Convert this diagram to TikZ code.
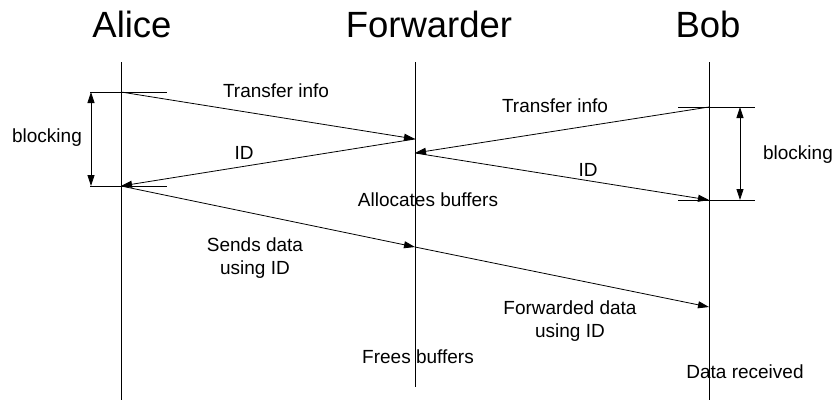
\documentclass[tikz,border=0pt]{standalone}
\usepackage{fontspec}
\setmainfont{Liberation Sans}
\usetikzlibrary{arrows.meta}
\begin{document}
\begin{tikzpicture}[x=1pt,y=-1pt,
  lifeline/.style={draw, line width=0.8pt},
  tick/.style={draw, line width=0.8pt},
  msg/.style={draw, line width=0.8pt, -{Triangle[length=11pt,width=7pt]}},
  span/.style={draw, line width=0.8pt, {Triangle[length=11pt,width=7pt]}-{Triangle[length=11pt,width=7pt]}},
  title/.style={font=\fontsize{36.5}{40}\selectfont, anchor=base},
  lbl/.style={font=\fontsize{19}{23}\selectfont, align=center, inner sep=0pt}]
\useasboundingbox (0,0) rectangle (833,400);

% participants
\node[title] (alice) at (132,37) {Alice};
\node[title] (fwd) at (429,37) {Forwarder};
\node[title] (bob) at (708,37) {Bob};

% lifelines
\coordinate (aT) at (121,62); \coordinate (aB) at (121,400);
\coordinate (fT) at (415,62); \coordinate (fB) at (415,387);
\coordinate (bT) at (709,62); \coordinate (bB) at (709,400);
\draw[lifeline] (aT) -- (aB);
\draw[lifeline] (fT) -- (fB);
\draw[lifeline] (bT) -- (bB);

% message points
\coordinate (a1) at (121,92);
\coordinate (a2) at (121,186);
\coordinate (f1) at (415,139);
\coordinate (f2) at (415,153);
\coordinate (f3) at (415,247);
\coordinate (b1) at (709,107);
\coordinate (b2) at (709,200);
\coordinate (b3) at (709,307);

% blocking ticks and spans
\coordinate (aL1) at (90,92);  \coordinate (aR1) at (167,92);
\coordinate (aL2) at (90,186); \coordinate (aR2) at (167,186);
\coordinate (bL1) at (678,107); \coordinate (bR1) at (755,107);
\coordinate (bL2) at (678,200); \coordinate (bR2) at (755,200);
\draw[tick] (aL1) -- (aR1);
\draw[tick] (aL2) -- (aR2);
\draw[tick] (bL1) -- (bR1);
\draw[tick] (bL2) -- (bR2);
\coordinate (sa1) at (91,92);  \coordinate (sa2) at (91,186);
\coordinate (sb1) at (740,107); \coordinate (sb2) at (740,200);
\draw[span] (sa1) -- (sa2);
\draw[span] (sb1) -- (sb2);

% messages
\draw[msg] (a1) -- (f1);
\draw[msg] (f1) -- (a2);
\draw[msg] (b1) -- (f2);
\draw[msg] (f2) -- (b2);
\draw[msg] (a2) -- (f3);
\draw[msg] (f3) -- (b3);

% labels
\node[lbl] (l1) at (276,91) {Transfer info};
\node[lbl] (l2) at (244,153) {ID};
\node[lbl] (l3) at (555,106) {Transfer info};
\node[lbl] (l4) at (588,170) {ID};
\node[lbl] (l5) at (47,138) {blocking};
\node[lbl] (l6) at (798,155) {blocking};
\node[lbl] (l7) at (428,200) {Allocates buffers};
\node[lbl] (l8) at (255,258) {Sends data\\using ID};
\node[lbl] (l9) at (570,321) {Forwarded data\\using ID};
\node[lbl] (l10) at (418,357) {Frees buffers};
\node[lbl] (l11) at (745,372) {Data received};
\end{tikzpicture}
\end{document}
